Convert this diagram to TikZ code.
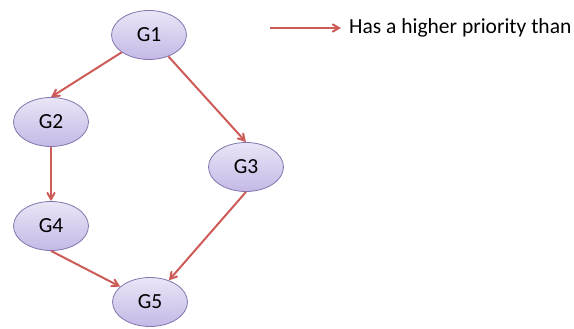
\documentclass[tikz,border=0pt]{standalone}
\usepackage{fontspec}
\setmainfont{Carlito}
\usetikzlibrary{arrows,positioning,shapes.geometric}
\definecolor{goalfill}{RGB}{234,229,246}
\definecolor{goalshade}{RGB}{196,185,230}
\definecolor{goalline}{RGB}{130,118,175}
\definecolor{prioline}{RGB}{205,92,88}

\begin{document}
\begin{tikzpicture}[->, >=angle 60, on grid, font=\fontsize{21.5}{24}\selectfont]
		\tikzstyle{goal}=[ellipse,draw=goalline,line width=0.8pt,top color=goalfill,bottom color=goalshade,minimum width=75pt,minimum height=49pt,inner sep=0pt,text=black]
		\tikzstyle{prio}=[draw=prioline,line width=2pt]
		\tikzstyle{every edge}=[draw,prio]
		\useasboundingbox (0,0) rectangle (574pt,-329pt);
		\node[goal]    (G1) at (149pt,-35pt)                    {G1};
		\node[goal]    (G2)[below left = 87pt and 98pt of G1]   {G2};
		\node[goal]    (G3)[below right = 132pt and 97pt of G1] {G3};
		\node[goal]    (G4)[below = 104pt of G2]                {G4};
		\node[goal]    (G5)[below right = 76pt and 99pt of G4]  {G5};
		\node[anchor=west,inner sep=0pt] (legend) at (349pt,-28pt) {Has a higher priority than};
		\coordinate[left = 79pt of legend.west] (legstart);
		\path
		(G1) edge (G2.north)
		(G1) edge (G3.north)
		(G2) edge (G4)
		(G4.south) edge (G5)
		(G3.south) edge (G5)
		(legstart) edge ([xshift=-8pt]legend.west);
	\end{tikzpicture}
\end{document}
